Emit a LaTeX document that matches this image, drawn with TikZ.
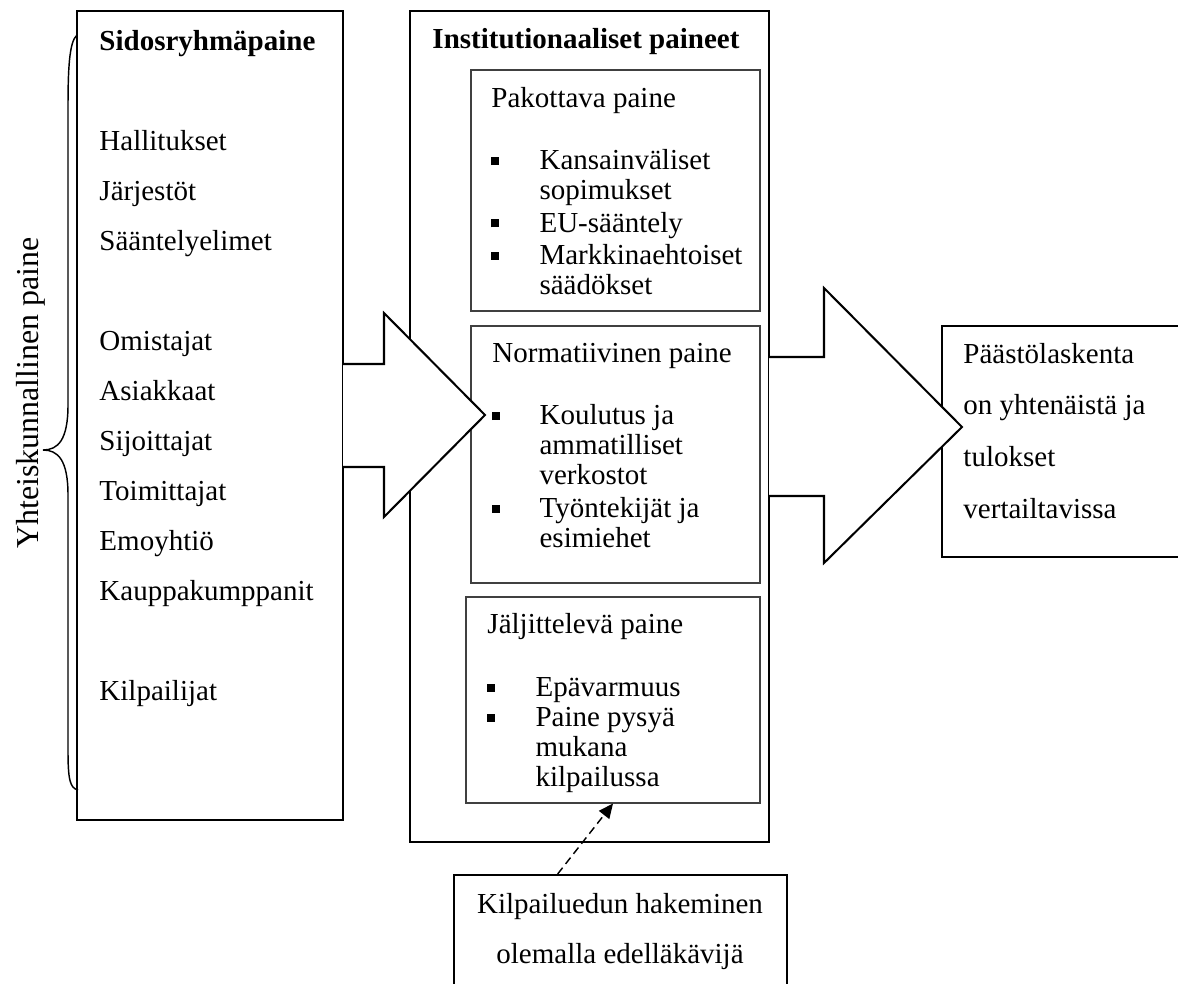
\documentclass[tikz,border=0pt]{standalone}
\usepackage{fontspec}
\setmainfont{Liberation Serif}
\usetikzlibrary{positioning,arrows.meta,fit}
\newcommand\sqbullet{\rule[2pt]{3.3pt}{3.3pt}}

\begin{document}
\begin{tikzpicture}[
  x=0.4138pt, y=-0.4138pt,
  font=\fontsize{12}{14}\selectfont,
  box/.style    = {draw=black, fill=white, line width=0.85pt, inner sep=0pt},
  sub/.style    = {draw=black!75, fill=white, line width=0.45pt, inner sep=0pt},
  blockarr/.style = {draw=black, fill=white, line width=0.85pt, line join=miter},
  txt/.style    = {inner sep=0pt, anchor=base west},
  list/.style   = {txt, font=\fontsize{12}{12.4}\selectfont},
  brace/.style  = {draw=black, line width=0.6pt},
  dashedarr/.style = {-{Triangle[length=6pt,width=5.4pt]}, dashed,
                  dash pattern=on 3.3pt off 2pt, line width=0.6pt}
]
\useasboundingbox (0,0) rectangle (1178,983);
\clip (0,0) rectangle (1178,983);

% --- Laatikot ----------------------------------------------------------------
\node[box, fit={(77,11) (343,820)}] (sidos) {};
\node[box, fit={(410,11) (769,842)}] (inst) {};
\node[sub, fit={(471,70) (760,311)}] (pako) {};
\node[sub, fit={(471,326) (760,583)}] (norm) {};
\node[sub, fit={(466,597) (760,803)}] (jalji) {};
\node[box, fit={(942,326) (1200,557)}] (tulos) {};
\node[box, fit={(454,875) (787,1010)}] (kilpa) {};

% --- Lohkonuolet (valkoinen täyttö peittää reunat) ----------------------------
\filldraw[blockarr] (343,364) -- (384,364) -- (384,313) -- (485,415)
  -- (384,517) -- (384,467) -- (343,467);
\filldraw[blockarr] (769,357) -- (824,357) -- (824,288) -- (962,427)
  -- (824,563) -- (824,496) -- (769,496);

% --- Aaltosulje ja sivuotsikko ----------------------------------------------
\draw[brace] (77,35) .. controls (69,42) and (68,70) .. (68,110) -- (68,405)
  .. controls (68,440) and (58,450) .. (43,450)
  .. controls (58,450) and (68,460) .. (68,495) -- (68,750)
  .. controls (68,780) and (70,788) .. (78,790);
\node[rotate=90, anchor=base, inner sep=0pt, font=\fontsize{13.2}{15}\selectfont]
  (yhteis) at (38,393) {Yhteiskunnallinen paine};

% --- Tekstit -----------------------------------------------------------------
\node[txt, font=\fontsize{12}{20.7}\selectfont] (sidostxt) at (99,50)
  {\begin{tabular}[t]{@{}l@{}}
   \textbf{Sidosryhmäpaine}\\ \\ Hallitukset\\ Järjestöt\\ Sääntelyelimet\\ \\
   Omistajat\\ Asiakkaat\\ Sijoittajat\\ Toimittajat\\ Emoyhtiö\\
   Kauppakumppanit\\ \\ Kilpailijat
   \end{tabular}};
\node[txt] (insttxt) at (432,48) {\textbf{Institutionaaliset paineet}};

\node[list] (pakotxt) at (491,107)
  {\begin{tabular}[t]{@{}p{19.9pt}@{}l@{}}
   \multicolumn{2}{@{}l@{}}{Pakottava paine}\\[13.6pt]
   \sqbullet & Kansainväliset\\ & sopimukset\\[1pt]
   \sqbullet & EU-sääntely\\[1pt]
   \sqbullet & Markkinaehtoiset\\ & säädökset
   \end{tabular}};
\node[list] (normtxt) at (492,362)
  {\begin{tabular}[t]{@{}p{19.5pt}@{}l@{}}
   \multicolumn{2}{@{}l@{}}{Normatiivinen paine}\\[13.6pt]
   \sqbullet & Koulutus ja\\ & ammatilliset\\ & verkostot\\[1.2pt]
   \sqbullet & Työntekijät ja\\ & esimiehet
   \end{tabular}};
\node[list] (jaljitxt) at (487,633)
  {\begin{tabular}[t]{@{}p{19.9pt}@{}l@{}}
   \multicolumn{2}{@{}l@{}}{Jäljittelevä paine}\\[14pt]
   \sqbullet & Epävarmuus\\
   \sqbullet & Paine pysyä\\ & mukana\\ & kilpailussa
   \end{tabular}};

\node[txt, font=\fontsize{12}{21.5}\selectfont] (tulostxt) at (963,363)
  {\begin{tabular}[t]{@{}l@{}}
   Päästölaskenta\\ on yhtenäistä ja\\ tulokset\\ vertailtavissa
   \end{tabular}};
\node[inner sep=0pt, anchor=base, font=\fontsize{12}{20.7}\selectfont] (kilpatxt) at (620,913)
  {\begin{tabular}[t]{@{}c@{}}
   Kilpailuedun hakeminen\\ olemalla edelläkävijä
   \end{tabular}};

% --- Katkoviivanuoli ---------------------------------------------------------
\draw[dashedarr] ([xshift=-26pt]kilpa.north) -- (jalji.south);

\end{tikzpicture}
\end{document}
